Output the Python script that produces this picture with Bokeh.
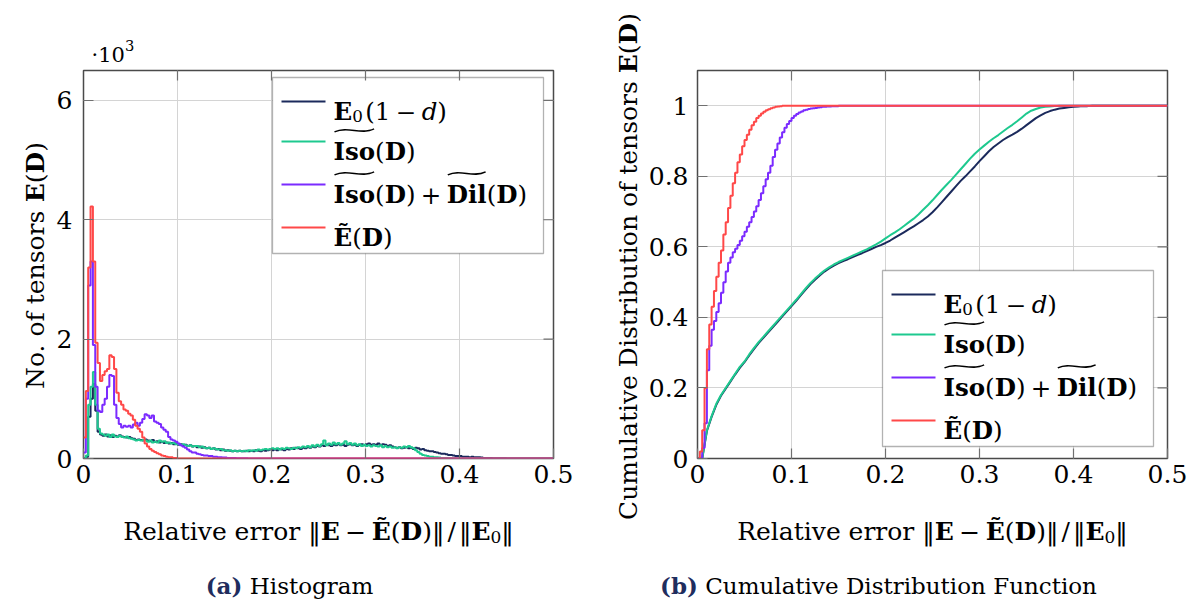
import glob
import os
import struct

from bokeh.embed import file_html
from bokeh.layouts import column, row
from bokeh.models import BoxAnnotation, FixedTicker, Label, Range1d
from bokeh.plotting import figure
from bokeh.resources import INLINE

# ----------------------------------------------------------------- data ----
# Histogram (counts in thousands), bins of width BIN_WIDTH starting at 0.
BIN_WIDTH = 0.0025
N_BINS = 200

hist_e0_1md = [
    0, 0.03, 0.7, 1.0, 1.25, 0.8, 0.45, 0.4, 0.38, 0.4,
    0.37, 0.39, 0.36, 0.38, 0.37, 0.39, 0.37, 0.36, 0.35, 0.36,
    0.34, 0.33, 0.31, 0.32, 0.31, 0.3, 0.32, 0.3, 0.29, 0.31,
    0.28, 0.29, 0.27, 0.28, 0.26, 0.27, 0.25, 0.26, 0.24, 0.25,
    0.23, 0.24, 0.22, 0.23, 0.21, 0.22, 0.2, 0.21, 0.19, 0.2,
    0.18, 0.19, 0.17, 0.18, 0.16, 0.17, 0.15, 0.16, 0.14, 0.15,
    0.13, 0.14, 0.13, 0.12, 0.13, 0.12, 0.13, 0.12, 0.12, 0.13,
    0.12, 0.13, 0.12, 0.14, 0.13, 0.12, 0.14, 0.13, 0.14, 0.15,
    0.14, 0.15, 0.14, 0.16, 0.15, 0.14, 0.16, 0.15, 0.17, 0.16,
    0.18, 0.17, 0.16, 0.18, 0.17, 0.19, 0.18, 0.2, 0.19, 0.21,
    0.2, 0.22, 0.21, 0.23, 0.22, 0.21, 0.23, 0.22, 0.24, 0.22,
    0.23, 0.21, 0.23, 0.24, 0.22, 0.23, 0.21, 0.23, 0.24, 0.22,
    0.24, 0.25, 0.23, 0.24, 0.23, 0.25, 0.22, 0.24, 0.23, 0.21,
    0.22, 0.2, 0.19, 0.18, 0.19, 0.17, 0.18, 0.19, 0.17, 0.18,
    0.16, 0.18, 0.17, 0.15, 0.16, 0.14, 0.13, 0.12, 0.12, 0.11,
    0.1, 0.09, 0.08, 0.08, 0.07, 0.06, 0.06, 0.05, 0.04, 0.04,
    0.04, 0.03, 0.03, 0.03, 0.02, 0.03, 0.02, 0.02, 0.02, 0.015,
    0.01, 0.01, 0.01, 0.01, 0.005, 0.005, 0.005, 0.005, 0.005, 0.005,
]
hist_iso = [
    0, 0.05, 0.9, 1.2, 1.45, 0.9, 0.5, 0.42, 0.4, 0.38,
    0.4, 0.36, 0.4, 0.37, 0.36, 0.38, 0.36, 0.35, 0.37, 0.34,
    0.33, 0.32, 0.3, 0.31, 0.3, 0.31, 0.3, 0.28, 0.3, 0.27,
    0.28, 0.27, 0.3, 0.28, 0.29, 0.26, 0.27, 0.25, 0.26, 0.24,
    0.24, 0.23, 0.24, 0.22, 0.21, 0.22, 0.2, 0.21, 0.21, 0.19,
    0.2, 0.18, 0.17, 0.18, 0.16, 0.17, 0.16, 0.15, 0.16, 0.14,
    0.14, 0.13, 0.14, 0.12, 0.13, 0.12, 0.13, 0.12, 0.13, 0.12,
    0.14, 0.13, 0.14, 0.13, 0.15, 0.14, 0.15, 0.16, 0.15, 0.16,
    0.17, 0.16, 0.17, 0.15, 0.17, 0.16, 0.18, 0.17, 0.16, 0.18,
    0.17, 0.19, 0.18, 0.2, 0.19, 0.21, 0.19, 0.22, 0.2, 0.23,
    0.21, 0.24, 0.3, 0.22, 0.25, 0.23, 0.27, 0.24, 0.26, 0.23,
    0.25, 0.29, 0.24, 0.26, 0.23, 0.25, 0.22, 0.24, 0.21, 0.23,
    0.21, 0.22, 0.2, 0.22, 0.21, 0.2, 0.22, 0.19, 0.21, 0.19,
    0.2, 0.18, 0.19, 0.17, 0.19, 0.18, 0.2, 0.19, 0.21, 0.19,
    0.17, 0.14, 0.11, 0.08, 0.06, 0.05, 0.04, 0.03, 0.03, 0.02,
    0.02, 0.015, 0.01, 0.01, 0.01, 0.005, 0.005,
]
hist_iso_dil = [
    0.1, 1.0, 2.9, 3.3, 1.9, 1.2, 0.8, 0.78, 0.9, 1.0,
    1.2, 1.4, 1.38, 0.9, 0.68, 0.58, 0.52, 0.55, 0.53, 0.55,
    0.52, 0.57, 0.6, 0.55, 0.6, 0.66, 0.74, 0.72, 0.68, 0.72,
    0.62, 0.6, 0.58, 0.52, 0.48, 0.45, 0.36, 0.32, 0.3, 0.28,
    0.25, 0.22, 0.2, 0.18, 0.15, 0.12, 0.1, 0.1, 0.08, 0.07,
    0.06, 0.05, 0.05, 0.04, 0.04, 0.03, 0.03, 0.02, 0.02, 0.015,
    0.015, 0.01, 0.01, 0.01, 0.01, 0.005, 0.005, 0.005, 0.005, 0.005,
]
hist_e_tilde = [
    0.35, 1.13, 3.2, 4.22, 3.3, 1.94, 1.6, 1.3, 1.4, 1.46,
    1.5, 1.73, 1.7, 1.5, 1.1, 0.96, 0.9, 0.82, 0.8, 0.75,
    0.72, 0.65, 0.55, 0.5, 0.45, 0.35, 0.25, 0.2, 0.16, 0.13,
    0.11, 0.09, 0.07, 0.05, 0.04, 0.03, 0.02, 0.02, 0.01, 0.01,
]

# Cumulative distributions, sampled every CDF_STEP_COARSE / CDF_STEP_FINE from 0.
CDF_STEP_COARSE = 0.005
CDF_STEP_FINE = 0.0025
cdf_e0_1md = [
    0, 0, 0.078, 0.118, 0.152, 0.178, 0.198, 0.218, 0.238, 0.257,
    0.273, 0.292, 0.31, 0.327, 0.342, 0.357, 0.372, 0.387, 0.402, 0.417,
    0.432, 0.447, 0.463, 0.479, 0.494, 0.507, 0.519, 0.53, 0.539, 0.547,
    0.554, 0.56, 0.565, 0.571, 0.577, 0.582, 0.588, 0.594, 0.6, 0.605,
    0.611, 0.618, 0.626, 0.634, 0.642, 0.65, 0.658, 0.667, 0.676, 0.686,
    0.698, 0.712, 0.727, 0.742, 0.757, 0.772, 0.787, 0.8, 0.814, 0.828,
    0.843, 0.857, 0.871, 0.883, 0.893, 0.903, 0.911, 0.918, 0.926, 0.935,
    0.945, 0.955, 0.965, 0.973, 0.98, 0.985, 0.989, 0.992, 0.994, 0.996,
    0.997, 0.998, 0.999, 0.999, 1.0,
]
cdf_iso = [
    0, 0, 0.08, 0.12, 0.155, 0.18, 0.2, 0.22, 0.24, 0.26,
    0.275, 0.295, 0.313, 0.33, 0.345, 0.36, 0.375, 0.39, 0.405, 0.42,
    0.435, 0.45, 0.466, 0.482, 0.497, 0.51, 0.522, 0.533, 0.542, 0.55,
    0.557, 0.563, 0.569, 0.575, 0.581, 0.587, 0.593, 0.6, 0.607, 0.615,
    0.624, 0.633, 0.641, 0.65, 0.66, 0.67, 0.68, 0.692, 0.705, 0.718,
    0.732, 0.747, 0.762, 0.776, 0.79, 0.805, 0.82, 0.835, 0.85, 0.864,
    0.876, 0.887, 0.898, 0.908, 0.917, 0.927, 0.937, 0.946, 0.956, 0.967,
    0.978, 0.986, 0.991, 0.995, 0.997, 0.998, 0.999, 1.0,
]
cdf_iso_dil = [
    0, 0, 0.03, 0.1, 0.25, 0.32, 0.365, 0.39, 0.415, 0.44,
    0.47, 0.5, 0.53, 0.555, 0.57, 0.585, 0.595, 0.605, 0.617, 0.63,
    0.643, 0.657, 0.67, 0.685, 0.7, 0.715, 0.733, 0.752, 0.772, 0.792,
    0.81, 0.83, 0.855, 0.875, 0.893, 0.91, 0.925, 0.938, 0.948, 0.957,
    0.965, 0.972, 0.977, 0.981, 0.984, 0.987, 0.989, 0.991, 0.992, 0.993,
    0.994, 0.995, 0.996, 0.997, 0.997, 0.998, 0.998, 0.999, 0.999, 0.999,
    1.0,
]
cdf_e_tilde = [
    0, 0.02, 0.08, 0.2, 0.31, 0.38, 0.43, 0.475, 0.515, 0.555,
    0.59, 0.635, 0.67, 0.71, 0.745, 0.78, 0.81, 0.84, 0.862, 0.885,
    0.903, 0.918, 0.932, 0.945, 0.955, 0.965, 0.972, 0.978, 0.983, 0.987,
    0.99, 0.993, 0.995, 0.997, 0.998, 0.999, 1.0,
]

X_MAX = 0.5
HIST_Y_MAX = 6.5
CDF_Y_MAX = 1.1
x_ticks = [0, 0.1, 0.2, 0.3, 0.4, 0.5]
x_tick_labels = ["0", "0.1", "0.2", "0.3", "0.4", "0.5"]
hist_y_ticks = [0, 2, 4, 6]
hist_y_tick_labels = ["0", "2", "4", "6"]
cdf_y_ticks = [0, 0.2, 0.4, 0.6, 0.8, 1.0]
cdf_y_tick_labels = ["0", "0.2", "0.4", "0.6", "0.8", "1"]

COLORS = ["#1b2a5c", "#1ec98f", "#7b2bff", "#ff4848"]
CAPTION_COLOR = "#1f2d5e"
TICK_COLOR = "#707070"
FONT = "DejaVu Serif"

# ------------------------------------------------------- font metrics ----
FONT_FILES = {
    "normal": "DejaVuSerif.ttf",
    "bold": "DejaVuSerif-Bold.ttf",
    "italic": "DejaVuSerif-Italic.ttf",
    "sans": "DejaVuSans.ttf",
}
APPROX = {
    "normal": {" ": .318, "(": .39, ")": .39, ".": .318, "/": .337, "+": .838, "\u2212": .838,
               "\u2016": .5, "\u00b7": .318, "R": .73, "e": .592, "l": .32, "a": .596, "t": .402,
               "i": .32, "v": .565, "r": .478, "o": .602, "N": .872, "f": .37, "n": .644, "s": .513,
               "C": .715, "u": .644, "m": .948, "D": .80, "b": .64, "H": .872, "g": .64, "F": .694,
               "c": .56, "d": .64},
    "bold": {"E": .762, "D": .867, "\u1ebc": .762, "I": .468, "s": .595, "o": .669, "i": .375,
             "l": .375, "(": .473, ")": .473, "a": .648, "b": .716},
    "italic": {"d": .64},
}


def _find_file(name):
    for root in ["/usr/share/fonts", "/usr/local/share/fonts"]:
        hits = glob.glob(os.path.join(root, "**", name), recursive=True)
        if hits:
            return hits[0]
    return None


def _parse_ttf(path):
    d = open(path, "rb").read()
    num = struct.unpack(">H", d[4:6])[0]
    tabs = {}
    for i in range(num):
        tag, _, off, _ = struct.unpack(">4sIII", d[12 + 16 * i: 28 + 16 * i])
        tabs[tag] = off
    upem = struct.unpack(">H", d[tabs[b"head"] + 18: tabs[b"head"] + 20])[0]
    nhm = struct.unpack(">H", d[tabs[b"hhea"] + 34: tabs[b"hhea"] + 36])[0]
    hm = tabs[b"hmtx"]
    adv = struct.unpack(">" + "Hh" * nhm, d[hm: hm + 4 * nhm])[0::2]
    cm = tabs[b"cmap"]
    nsub = struct.unpack(">H", d[cm + 2: cm + 4])[0]
    sub = None
    for i in range(nsub):
        pid, eid, off = struct.unpack(">HHI", d[cm + 4 + 8 * i: cm + 12 + 8 * i])
        if struct.unpack(">H", d[cm + off: cm + off + 2])[0] == 4:
            if sub is None or pid == 3:
                sub = cm + off
    segx2 = struct.unpack(">H", d[sub + 6: sub + 8])[0]
    seg = segx2 // 2
    ends = struct.unpack(">%dH" % seg, d[sub + 14: sub + 14 + segx2])
    starts = struct.unpack(">%dH" % seg, d[sub + 16 + segx2: sub + 16 + 2 * segx2])
    deltas = struct.unpack(">%dh" % seg, d[sub + 16 + 2 * segx2: sub + 16 + 3 * segx2])
    ro_pos = sub + 16 + 3 * segx2
    ranges = struct.unpack(">%dH" % seg, d[ro_pos: ro_pos + segx2])

    def width(ch):
        c = ord(ch)
        for i in range(seg):
            if ends[i] >= c:
                if starts[i] > c:
                    return None
                if ranges[i] == 0:
                    g = (c + deltas[i]) & 0xFFFF
                else:
                    addr = ro_pos + 2 * i + ranges[i] + 2 * (c - starts[i])
                    g = struct.unpack(">H", d[addr: addr + 2])[0]
                    g = (g + deltas[i]) & 0xFFFF if g else 0
                if g == 0:
                    return None
                return adv[min(g, nhm - 1)] / upem
        return None

    return width


_METRICS = {}


def _metric(style):
    if style not in _METRICS:
        fn = None
        try:
            path = _find_file(FONT_FILES[style])
            if path:
                fn = _parse_ttf(path)
        except Exception:
            fn = None
        _METRICS[style] = fn
    return _METRICS[style]


def text_width(text, style, size):
    total = 0.0
    for ch in text:
        w = None
        for st in (style, "sans"):
            f = _metric(st)
            if f is not None:
                try:
                    w = f(ch)
                except Exception:
                    w = None
            if w is not None:
                break
        if w is None:
            w = APPROX.get(style, {}).get(ch, APPROX["normal"].get(ch, 0.62))
        total += w
    return total * size


# ------------------------------------------------------------ helpers ----
class Geo:
    """Maps page pixels to the data coordinates of one figure's frame."""

    def __init__(self, left, top, width, height, x0, x1, y0, y1):
        self.left, self.top, self.width, self.height = left, top, width, height
        self.x0, self.x1, self.y0, self.y1 = x0, x1, y0, y1

    def x(self, px):
        return self.x0 + (px - self.left) / self.width * (self.x1 - self.x0)

    def y(self, py):
        return self.y1 - (py - self.top) / self.height * (self.y1 - self.y0)


def T(text, style="normal", scale=1.0, dy=0.0, color="black", tilde=False):
    return dict(text=text, style=style, scale=scale, dy=dy, color=color, tilde=tilde)


def SP(em):
    return dict(text=None, em=em)


def rich(p, geo, pieces, px, py, size, align="center", angle=0.0):
    ws = []
    for pc in pieces:
        if pc["text"] is None:
            ws.append(pc["em"] * size)
        else:
            ws.append(text_width(pc["text"], pc["style"], size * pc["scale"]))
    total = sum(ws)
    off = {"left": 0.0, "center": -total / 2.0, "right": -total}[align]
    spans = []
    for pc, w in zip(pieces, ws):
        if pc["text"] is not None:
            dy = pc["dy"] * size
            if angle == 0:
                X, Y = px + off, py - dy
            else:
                X, Y = px - dy, py - off
            p.add_layout(Label(
                x=geo.x(X), y=geo.y(Y), text=pc["text"], text_font=FONT,
                text_font_size="%.1fpx" % (size * pc["scale"]),
                text_font_style=pc["style"], text_color=pc["color"],
                text_align="left", text_baseline="alphabetic", angle=angle))
            if pc["tilde"]:
                spans.append((px + off, py, w, size))
        off += w
    return spans


def style_axis(ax, ticks, labels, standoff):
    ax.ticker = FixedTicker(ticks=ticks)
    ax.major_label_overrides = {t: l for t, l in zip(ticks, labels)}
    ax.major_tick_in = 10
    ax.major_tick_out = 0
    ax.minor_tick_in = 0
    ax.minor_tick_out = 0
    ax.major_tick_line_color = TICK_COLOR
    ax.major_tick_line_width = 1.2
    ax.axis_line_color = None
    ax.major_label_text_font = FONT
    ax.major_label_text_font_size = "25px"
    ax.major_label_text_color = "black"
    ax.major_label_standoff = standoff


FRAME_W, FRAME_H = 470, 388
TOP_STRIP = 68
MAIN_TOP, MAIN_BOTTOM = 2, 40
PAGE_H = 600
BOTTOM_STRIP = PAGE_H - TOP_STRIP - MAIN_TOP - FRAME_H - MAIN_BOTTOM


def make_main(border_left, border_right, y_max, y_ticks, y_labels, y_standoff):
    p = figure(frame_width=FRAME_W, frame_height=FRAME_H,
               x_range=Range1d(0, X_MAX), y_range=Range1d(0, y_max),
               min_border_left=border_left, min_border_right=border_right,
               min_border_top=MAIN_TOP, min_border_bottom=MAIN_BOTTOM,
               output_backend="svg", toolbar_location=None,
               background_fill_color="white", border_fill_color="white")
    p.outline_line_color = "#4a4a4a"
    p.outline_line_width = 1.5
    style_axis(p.xaxis[0], x_ticks, x_tick_labels, 6)
    style_axis(p.yaxis[0], y_ticks, y_labels, y_standoff)
    p.xgrid.ticker = FixedTicker(ticks=x_ticks)
    p.ygrid.ticker = FixedTicker(ticks=y_ticks)
    p.grid.grid_line_color = "#d4d4d4"
    p.grid.grid_line_width = 1
    # mirrored tick marks on the top and right edges of the frame
    dx = 10.0 / FRAME_W * X_MAX
    dy = 10.0 / FRAME_H * y_max
    top = [t for t in x_ticks if 0 < t < X_MAX]
    right = [t for t in y_ticks if 0 < t < y_max]
    p.segment(x0=top, y0=[y_max] * len(top), x1=top, y1=[y_max - dy] * len(top),
              line_color=TICK_COLOR, line_width=1.2)
    p.segment(x0=[X_MAX] * len(right), y0=right, x1=[X_MAX - dx] * len(right), y1=right,
              line_color=TICK_COLOR, line_width=1.2)
    return p


def make_aux(ox, oy, w, h):
    """A blank figure whose data coordinates are page pixels (y downwards)."""
    a = figure(width=w, height=h, x_range=Range1d(ox, ox + w), y_range=Range1d(oy + h, oy),
               min_border=0, toolbar_location=None, output_backend="svg",
               x_axis_type=None, y_axis_type=None,
               background_fill_color="white", border_fill_color="white")
    a.outline_line_color = None
    geo = Geo(ox, oy, w, h, ox, ox + w, oy + h, oy)
    return a, geo


def legend_entries():
    return [
        [T("E", "bold"), T("0", scale=0.68, dy=-0.2), SP(0.1), T("(1"), SP(0.22), T("\u2212"),
         SP(0.22), T("d", "italic"), T(")")],
        [T("Iso", "bold", tilde=True), T("("), T("D", "bold"), T(")")],
        [T("Iso", "bold", tilde=True), T("("), T("D", "bold"), T(")"), SP(0.22), T("+"), SP(0.22),
         T("Dil", "bold", tilde=True), T("("), T("D", "bold"), T(")")],
        [T("\u1ebc", "bold"), T("("), T("D", "bold"), T(")")],
    ]


def draw_legend(p, geo, box):
    left, top, right, bottom = box
    p.add_layout(BoxAnnotation(left=geo.x(left), right=geo.x(right), top=geo.y(top),
                               bottom=geo.y(bottom), fill_color="white", fill_alpha=1.0,
                               line_color="black", line_width=1.3, level="underlay"))
    line_offsets = [24, 64, 107, 150]
    sx0, sx1, sy = [], [], []
    tx0, ty0, tx1, ty1, tcx0, tcy0, tcx1, tcy1 = [], [], [], [], [], [], [], []
    for entry, dyl in zip(legend_entries(), line_offsets):
        ly = top + dyl
        sx0.append(geo.x(left + 9))
        sx1.append(geo.x(left + 53))
        sy.append(geo.y(ly))
        spans = rich(p, geo, entry, left + 61, ly + 10, 24.5, align="left")
        for (xs, base, w, size) in spans:
            xa, xb = xs + 1, xs + w - 1
            yc = base - 0.86 * size
            tx0.append(geo.x(xa)); ty0.append(geo.y(yc + 1.5))
            tx1.append(geo.x(xb)); ty1.append(geo.y(yc - 1.5))
            tcx0.append(geo.x(xa + (xb - xa) / 3)); tcy0.append(geo.y(yc - 5))
            tcx1.append(geo.x(xa + 2 * (xb - xa) / 3)); tcy1.append(geo.y(yc + 5))
    p.segment(x0=sx0, y0=sy, x1=sx1, y1=sy, line_color=COLORS, line_width=2)
    p.bezier(x0=tx0, y0=ty0, x1=tx1, y1=ty1, cx0=tcx0, cy0=tcy0, cx1=tcx1, cy1=tcy1,
             line_color="black", line_width=1.5)


def hist_xy(vals):
    v = list(vals) + [0.0] * (N_BINS - len(vals))
    xs = [i * BIN_WIDTH for i in range(N_BINS + 1)]
    return xs, v + [v[-1]]


def cdf_xy(vals, step):
    xs = [i * step for i in range(len(vals))] + [X_MAX]
    return xs, list(vals) + [vals[-1]]


X_LABEL = [T("Relative error \u2016"), T("E", "bold"), SP(0.22), T("\u2212"), SP(0.22),
           T("\u1ebc", "bold"), T("("), T("D", "bold"), T(")\u2016"), SP(0.12), T("/"), SP(0.12),
           T("\u2016"), T("E", "bold"), T("0", scale=0.68, dy=-0.2), T("\u2016")]
Y_LABEL_TAIL = [SP(0.318), T("E", "bold"), T("("), T("D", "bold"), T(")")]
VERTICAL = 1.5707963267948966

# --------------------------------------------------------------- layout ----
YLAB1_W = 50
B1_LEFT, B1_RIGHT = 33, 47
YLAB2_W = 44
B2_LEFT, B2_RIGHT = 53, 27
COL1_X = YLAB1_W
COL1_W = B1_LEFT + FRAME_W + B1_RIGHT
YLAB2_X = COL1_X + COL1_W
COL2_X = YLAB2_X + YLAB2_W
COL2_W = B2_LEFT + FRAME_W + B2_RIGHT
FRAME_TOP = TOP_STRIP + MAIN_TOP
BOTTOM_Y = TOP_STRIP + MAIN_TOP + FRAME_H + MAIN_BOTTOM

# ------------------------------------------------------------ figure a ----
p1 = make_main(B1_LEFT, B1_RIGHT, HIST_Y_MAX, hist_y_ticks, hist_y_tick_labels, 11)
g1 = Geo(COL1_X + B1_LEFT, FRAME_TOP, FRAME_W, FRAME_H, 0, X_MAX, 0, HIST_Y_MAX)
for vals, col in zip([hist_e0_1md, hist_iso, hist_iso_dil, hist_e_tilde], COLORS):
    xs, ys = hist_xy(vals)
    p1.step(x=xs, y=ys, mode="after", line_color=col, line_width=2)
draw_legend(p1, g1, (272, 77, 543, 253))

top1, gt1 = make_aux(COL1_X, 0, COL1_W, TOP_STRIP)
rich(top1, gt1, [T("\u00b710"), T("3", scale=0.7, dy=0.45)], 91, 54, 21, align="left")

ylab1, gy1 = make_aux(0, 0, YLAB1_W, PAGE_H)
rich(ylab1, gy1, [T("No. of tensors")] + Y_LABEL_TAIL, 35, 265, 25, angle=VERTICAL)

bot1, gb1 = make_aux(COL1_X, BOTTOM_Y, COL1_W, BOTTOM_STRIP)
rich(bot1, gb1, X_LABEL, COL1_X + B1_LEFT + FRAME_W / 2, 531, 25)
rich(bot1, gb1, [T("(a)", "bold", color=CAPTION_COLOR), SP(0.318), T("Histogram")], 289, 585, 23)

# ------------------------------------------------------------ figure b ----
p2 = make_main(B2_LEFT, B2_RIGHT, CDF_Y_MAX, cdf_y_ticks, cdf_y_tick_labels, 9)
g2 = Geo(COL2_X + B2_LEFT, FRAME_TOP, FRAME_W, FRAME_H, 0, X_MAX, 0, CDF_Y_MAX)
for vals, step, col, smooth in zip([cdf_e0_1md, cdf_iso, cdf_iso_dil, cdf_e_tilde],
                                   [CDF_STEP_COARSE, CDF_STEP_COARSE, CDF_STEP_FINE, CDF_STEP_FINE],
                                   COLORS, [True, True, False, False]):
    xs, ys = cdf_xy(vals, step)
    if smooth:
        p2.line(x=xs, y=ys, line_color=col, line_width=2)
    else:
        p2.step(x=xs, y=ys, mode="after", line_color=col, line_width=2)
draw_legend(p2, g2, (882, 270, 1153, 446))

top2, gt2 = make_aux(COL2_X, 0, COL2_W, TOP_STRIP)

ylab2, gy2 = make_aux(YLAB2_X, 0, YLAB2_W, PAGE_H)
rich(ylab2, gy2, [T("Cumulative Distribution of tensors")] + Y_LABEL_TAIL, 628, 266, 25,
     angle=VERTICAL)

bot2, gb2 = make_aux(COL2_X, BOTTOM_Y, COL2_W, BOTTOM_STRIP)
rich(bot2, gb2, X_LABEL, COL2_X + B2_LEFT + FRAME_W / 2, 531, 25)
rich(bot2, gb2, [T("(b)", "bold", color=CAPTION_COLOR), SP(0.318),
                 T("Cumulative Distribution Function")], 878, 585, 23)

# Wrapping the strips in rows keeps their frames from being aligned to the plots' frames.
layout = row(ylab1, column(row(top1), p1, row(bot1)),
             ylab2, column(row(top2), p2, row(bot2)))
open("out.html", "w").write(file_html(layout, INLINE, title="Relative error distribution"))
